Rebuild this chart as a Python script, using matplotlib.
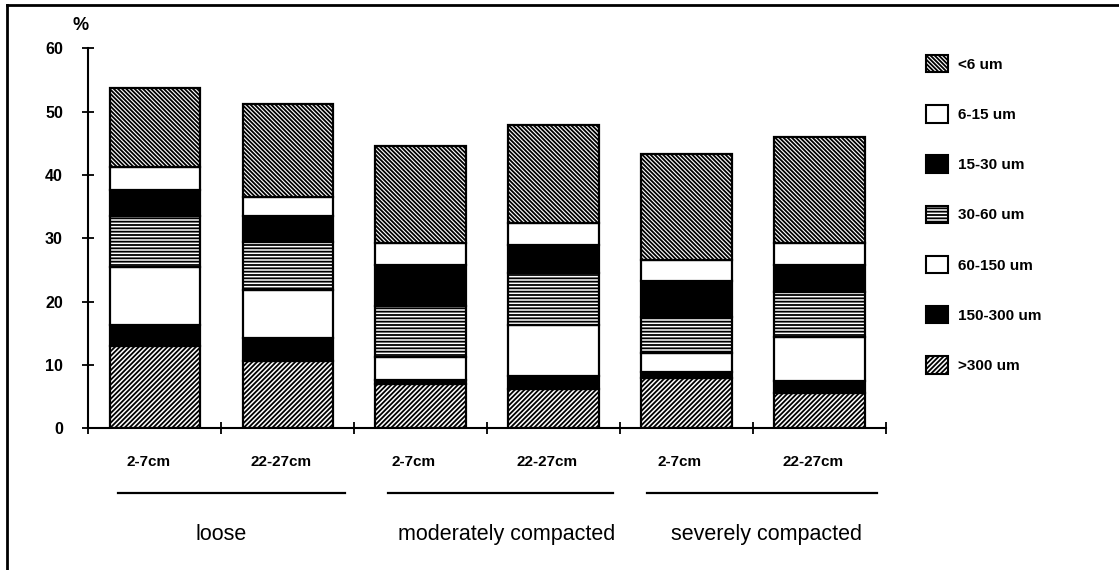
import matplotlib
matplotlib.use('Agg')
import matplotlib.pyplot as plt
import matplotlib.transforms as mtrans
from matplotlib.patches import Patch
from matplotlib.lines import Line2D

plt.rcParams['font.family'] = ['Liberation Sans', 'DejaVu Sans']
plt.rcParams['hatch.linewidth'] = 1.3
plt.rcParams['hatch.color'] = 'black'

# ---- data ----
depths = ['2-7cm', '22-27cm', '2-7cm', '22-27cm', '2-7cm', '22-27cm']
groups = ['loose', 'moderately compacted', 'severely compacted']
fraction_labels = ['>300 um', '150-300 um', '60-150 um', '30-60 um', '15-30 um', '6-15 um', '<6 um']

gt300 = [13.0, 10.6, 7.0, 6.2, 7.9, 5.6]
f150_300 = [3.3, 3.6, 0.6, 2.1, 1.0, 1.8]
f60_150 = [9.1, 7.7, 3.7, 8.0, 3.0, 7.0]
f30_60 = [8.1, 7.5, 8.0, 8.2, 5.6, 7.2]
f15_30 = [4.1, 4.1, 6.5, 4.4, 5.8, 4.2]
f6_15 = [3.6, 3.0, 3.4, 3.5, 3.3, 3.5]
lt6 = [12.5, 14.7, 15.4, 15.5, 16.7, 16.7]

yticks = [0, 10, 20, 30, 40, 50, 60]

# ---- styles ----
series = [gt300, f150_300, f60_150, f30_60, f15_30, f6_15, lt6]
faces = ['white', 'black', 'white', 'white', 'black', 'white', 'white']
hatches = ['/' * 7, None, None, '-----', None, None, '\\' * 8]

W, H = 1119, 570
fig = plt.figure(figsize=(W / 100, H / 100), dpi=100)
ax = fig.add_axes([88.3 / W, 1 - 428.3 / H, (886 - 88.3) / W, 380 / H])

x = [i + 0.5 for i in range(len(depths))]
bottom = [0.0] * len(depths)
handles = []
for vals, fc, ht, lab in zip(series, faces, hatches, fraction_labels):
    ax.bar(x, vals, bottom=bottom, width=0.68, color=fc, edgecolor='black',
           linewidth=1.6, hatch=ht)
    bottom = [b + v for b, v in zip(bottom, vals)]
    handles.append(Patch(facecolor=fc, edgecolor='black', linewidth=1.5, hatch=ht, label=lab))

ax.set_xlim(0, 6)
ax.set_ylim(0, 60)
for s in ['top', 'right']:
    ax.spines[s].set_visible(False)
for s in ['left', 'bottom']:
    ax.spines[s].set_linewidth(1.5)

ax.set_yticks(yticks)
ax.set_yticklabels([str(v) for v in yticks], fontsize=11.5, fontweight='bold')
ax.set_xticks(range(0, 7))
ax.set_xticklabels([])
ax.tick_params(axis='both', direction='inout', length=8.6, width=1.3)
ax.tick_params(axis='y', pad=14)

# percent sign
fig.text(81 / W, 1 - 25 / H, '%', fontsize=13, fontweight='bold', ha='center', va='center')

# depth labels
for xi, d in zip(x, depths):
    ax.annotate(d, xy=(xi - 0.05, 0), xycoords=('data', 'axes fraction'),
                xytext=(0, -24), textcoords='offset points',
                ha='center', va='center', fontsize=11, fontweight='bold',
                annotation_clip=False)

# group lines and labels
line_spans = [(0.223, 1.93), (2.256, 3.947), (4.2, 5.93)]
label_pos = [1.0, 3.146, 5.1]
off = mtrans.ScaledTranslation(0, -46.4 / 72, fig.dpi_scale_trans)
for (x0, x1), lp, g in zip(line_spans, label_pos, groups):
    ln = Line2D([x0, x1], [0, 0], color='black', lw=1.6)
    ln.set_transform(ax.get_xaxis_transform() + off)
    ln.set_clip_on(False)
    ax.add_line(ln)
    ax.annotate(g, xy=(lp, 0), xycoords=('data', 'axes fraction'),
                xytext=(0, -76.8), textcoords='offset points',
                ha='center', va='center', fontsize=15.5,
                annotation_clip=False)

# legend
fig.legend(handles=handles[::-1], loc='upper left',
           bbox_to_anchor=(926 / W, 1 - 55 / H), bbox_transform=fig.transFigure,
           frameon=False, prop={'weight': 'bold', 'size': 11},
           handlelength=1.44, handleheight=1.37, handletextpad=0.65,
           labelspacing=2.15, borderpad=0, borderaxespad=0)

# figure frame (top and left)
fig.add_artist(Line2D([7 / W, 1], [1 - 5 / H, 1 - 5 / H], transform=fig.transFigure,
                      color='black', lw=2))
fig.add_artist(Line2D([7 / W, 7 / W], [0, 1 - 5 / H], transform=fig.transFigure,
                      color='black', lw=2))

fig.savefig('out.png', dpi=100)
